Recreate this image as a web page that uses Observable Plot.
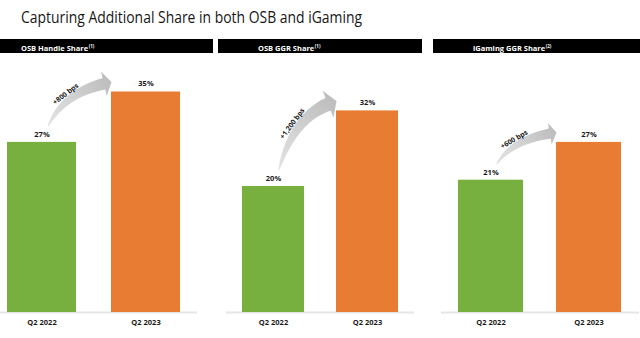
<!DOCTYPE html>
<html>
<head>
<meta charset="utf-8">
<script src="https://cdn.jsdelivr.net/npm/d3@7"></script>
<script src="https://cdn.jsdelivr.net/npm/@observablehq/plot@0.6"></script>
<style>
  html, body { margin: 0; padding: 0; background: #fff; }
  #root { position: relative; width: 640px; height: 338px; overflow: hidden; font-family: "Open Sans", sans-serif; }
  #title { position: absolute; left: 21px; top: 6.5px; font-size: 15.5px; line-height: 20px; color: #161616; white-space: nowrap; transform-origin: 0 50%; }
  .panel { position: absolute; top: 0; }
  .hdr { position: absolute; top: 38.5px; height: 14px; background: #000; }
  .hdr span { position: absolute; top: 0; line-height: 14px; color: #fff; font-weight: 700; font-size: 7.5px; white-space: nowrap; transform-origin: 0 50%; }
  .hdr sup { font-size: 4.5px; vertical-align: 3px; margin-left: 0.5px; }
</style>
</head>
<body>
<div id="root">
  <div id="title">Capturing Additional Share in both OSB and iGaming</div>
</div>
<script>
// ---- data ----
const panelTitles = ["OSB Handle Share", "OSB GGR Share", "iGaming GGR Share"];
const footnotes = ["(1)", "(1)", "(2)"];
const periods = ["Q2 2022", "Q2 2023"];
const share2022 = [27, 20, 21];
const share2023 = [35, 32, 27];
const changeLabels = ["+800 bps", "+1,200 bps", "+600 bps"];

// ---- layout ----
const green = "#77b03e", orange = "#e97c33";
const panelLayout = [
  {left: 0,   width: 197, ml: 6.7,  mr: 17},
  {left: 226, width: 188, ml: 15.7, mr: 15.7},
  {left: 441, width: 198, ml: 16.7, mr: 17.3}
];
const headerLayout = [
  {left: 0,   width: 213, text: 21},
  {left: 218, width: 204, text: 40},
  {left: 433, width: 207, text: 40}
];

const root = document.getElementById("root");

function bezier(T, C, B, t) {
  const u = 1 - t;
  return [u*u*T[0] + 2*u*t*C[0] + t*t*B[0], u*u*T[1] + 2*u*t*C[1] + t*t*B[1]];
}
function bezierD(T, C, B, t) {
  const u = 1 - t;
  return [2*u*(C[0]-T[0]) + 2*t*(B[0]-C[0]), 2*u*(C[1]-T[1]) + 2*t*(B[1]-C[1])];
}

function arrowMark(i) {
  return (index, scales, values, dimensions) => {
    const x = scales.x, y = scales.y;
    const bw = x.bandwidth();
    const v0 = share2022[i], v1 = share2023[i];
    const T = [x(periods[0]) + bw/2 + 0.09*bw, y(v0 + 2.4)];
    const P = [x(periods[1]) + 0.5, y(v1 + 1.5)];
    const L = Math.hypot(P[0]-T[0], P[1]-T[1]);
    const hl = 0.1*L, hw = 0.16*L, sw = 0.15*L;
    const C = [T[0] + 0.25*(P[0]-T[0]), P[1] + 0.25*(T[1]-P[1])];
    let ux = P[0]-C[0], uy = P[1]-C[1];
    const ul = Math.hypot(ux, uy); ux /= ul; uy /= ul;
    const B = [P[0] - ux*hl, P[1] - uy*hl];
    const N = 40, left = [], right = [];
    for (let k = 0; k <= N; k++) {
      const t = k/N;
      const q = bezier(T, C, B, t), d = bezierD(T, C, B, t);
      const dl = Math.hypot(d[0], d[1]);
      const n = [d[1]/dl, -d[0]/dl];
      const w = sw*Math.pow(t, 0.6)/2;
      left.push([q[0] + n[0]*w, q[1] + n[1]*w]);
      right.push([q[0] - n[0]*w, q[1] - n[1]*w]);
    }
    const ne = [uy, -ux];
    const pts = [...left,
      [B[0] + ne[0]*hw, B[1] + ne[1]*hw], P, [B[0] - ne[0]*hw, B[1] - ne[1]*hw],
      ...right.reverse()];
    const g = d3.create("svg:g");
    const gid = "arrgrad" + i;
    const grad = g.append("defs").append("linearGradient")
      .attr("id", gid).attr("gradientUnits", "userSpaceOnUse")
      .attr("x1", T[0]).attr("y1", T[1]).attr("x2", P[0]).attr("y2", P[1]);
    grad.append("stop").attr("offset", "0").attr("stop-color", "#e4e4e4");
    grad.append("stop").attr("offset", "1").attr("stop-color", "#bdbdbd");
    g.append("path")
      .attr("d", "M" + pts.map(p => p[0].toFixed(2) + "," + p[1].toFixed(2)).join("L") + "Z")
      .attr("fill", `url(#${gid})`);
    // label
    const t = 0.5, q = bezier(T, C, B, t), d = bezierD(T, C, B, t);
    const dl = Math.hypot(d[0], d[1]);
    const n = [d[1]/dl, -d[0]/dl];
    const off = sw*Math.pow(t, 0.6)/2 + 3;
    const ang = Math.atan2(d[1], d[0])*180/Math.PI;
    g.append("text")
      .attr("transform", `translate(${q[0] + n[0]*off},${q[1] + n[1]*off}) rotate(${ang})`)
      .attr("text-anchor", "middle").attr("dy", "0.35em")
      .attr("font-size", 7).attr("font-weight", 700).attr("fill", "#1a1a1a")
      .text(changeLabels[i]);
    return g.node();
  };
}

panelTitles.forEach((title, i) => {
  const L = panelLayout[i];
  const data = periods.map((p, j) => ({period: p, value: j === 0 ? share2022[i] : share2023[i]}));
  const chart = Plot.plot({
    width: L.width,
    height: 338,
    marginTop: 60,
    marginBottom: 26,
    marginLeft: L.ml,
    marginRight: L.mr,
    style: {background: "transparent", fontFamily: "Open Sans, sans-serif", fontSize: "7.5px", fontWeight: "bold", color: "#1a1a1a", overflow: "visible"},
    x: {domain: periods, paddingInner: 0.336, paddingOuter: 0, tickSize: 0, tickPadding: 7, label: null},
    y: {domain: [0, 40], axis: null},
    color: {domain: periods, range: [green, orange]},
    marks: [
      Plot.ruleY([0], {stroke: "#e6e6e6", strokeWidth: 2, insetLeft: -L.ml, insetRight: -L.mr}),
      Plot.barY(data, {x: "period", y: "value", fill: "period"}),
      Plot.text(data, {x: "period", y: "value", text: d => d.value + "%", dy: -8, fontSize: 7.5, fontWeight: "bold", fill: "#1a1a1a"}),
      arrowMark(i)
    ]
  });
  const wrap = document.createElement("div");
  wrap.className = "panel";
  wrap.style.left = L.left + "px";
  wrap.style.width = L.width + "px";
  wrap.appendChild(chart);
  root.appendChild(wrap);

  const H = headerLayout[i];
  const hdr = document.createElement("div");
  hdr.className = "hdr";
  hdr.style.left = H.left + "px";
  hdr.style.width = H.width + "px";
  const span = document.createElement("span");
  span.style.left = H.text + "px";
  span.textContent = title;
  const sup = document.createElement("sup");
  sup.textContent = footnotes[i];
  span.appendChild(sup);
  hdr.appendChild(span);
  root.appendChild(hdr);
});

// fit title width to the reference
const titleEl = document.getElementById("title");
const tw = titleEl.getBoundingClientRect().width;
titleEl.style.transform = `scaleX(${341 / tw})`;
</script>
</body>
</html>
